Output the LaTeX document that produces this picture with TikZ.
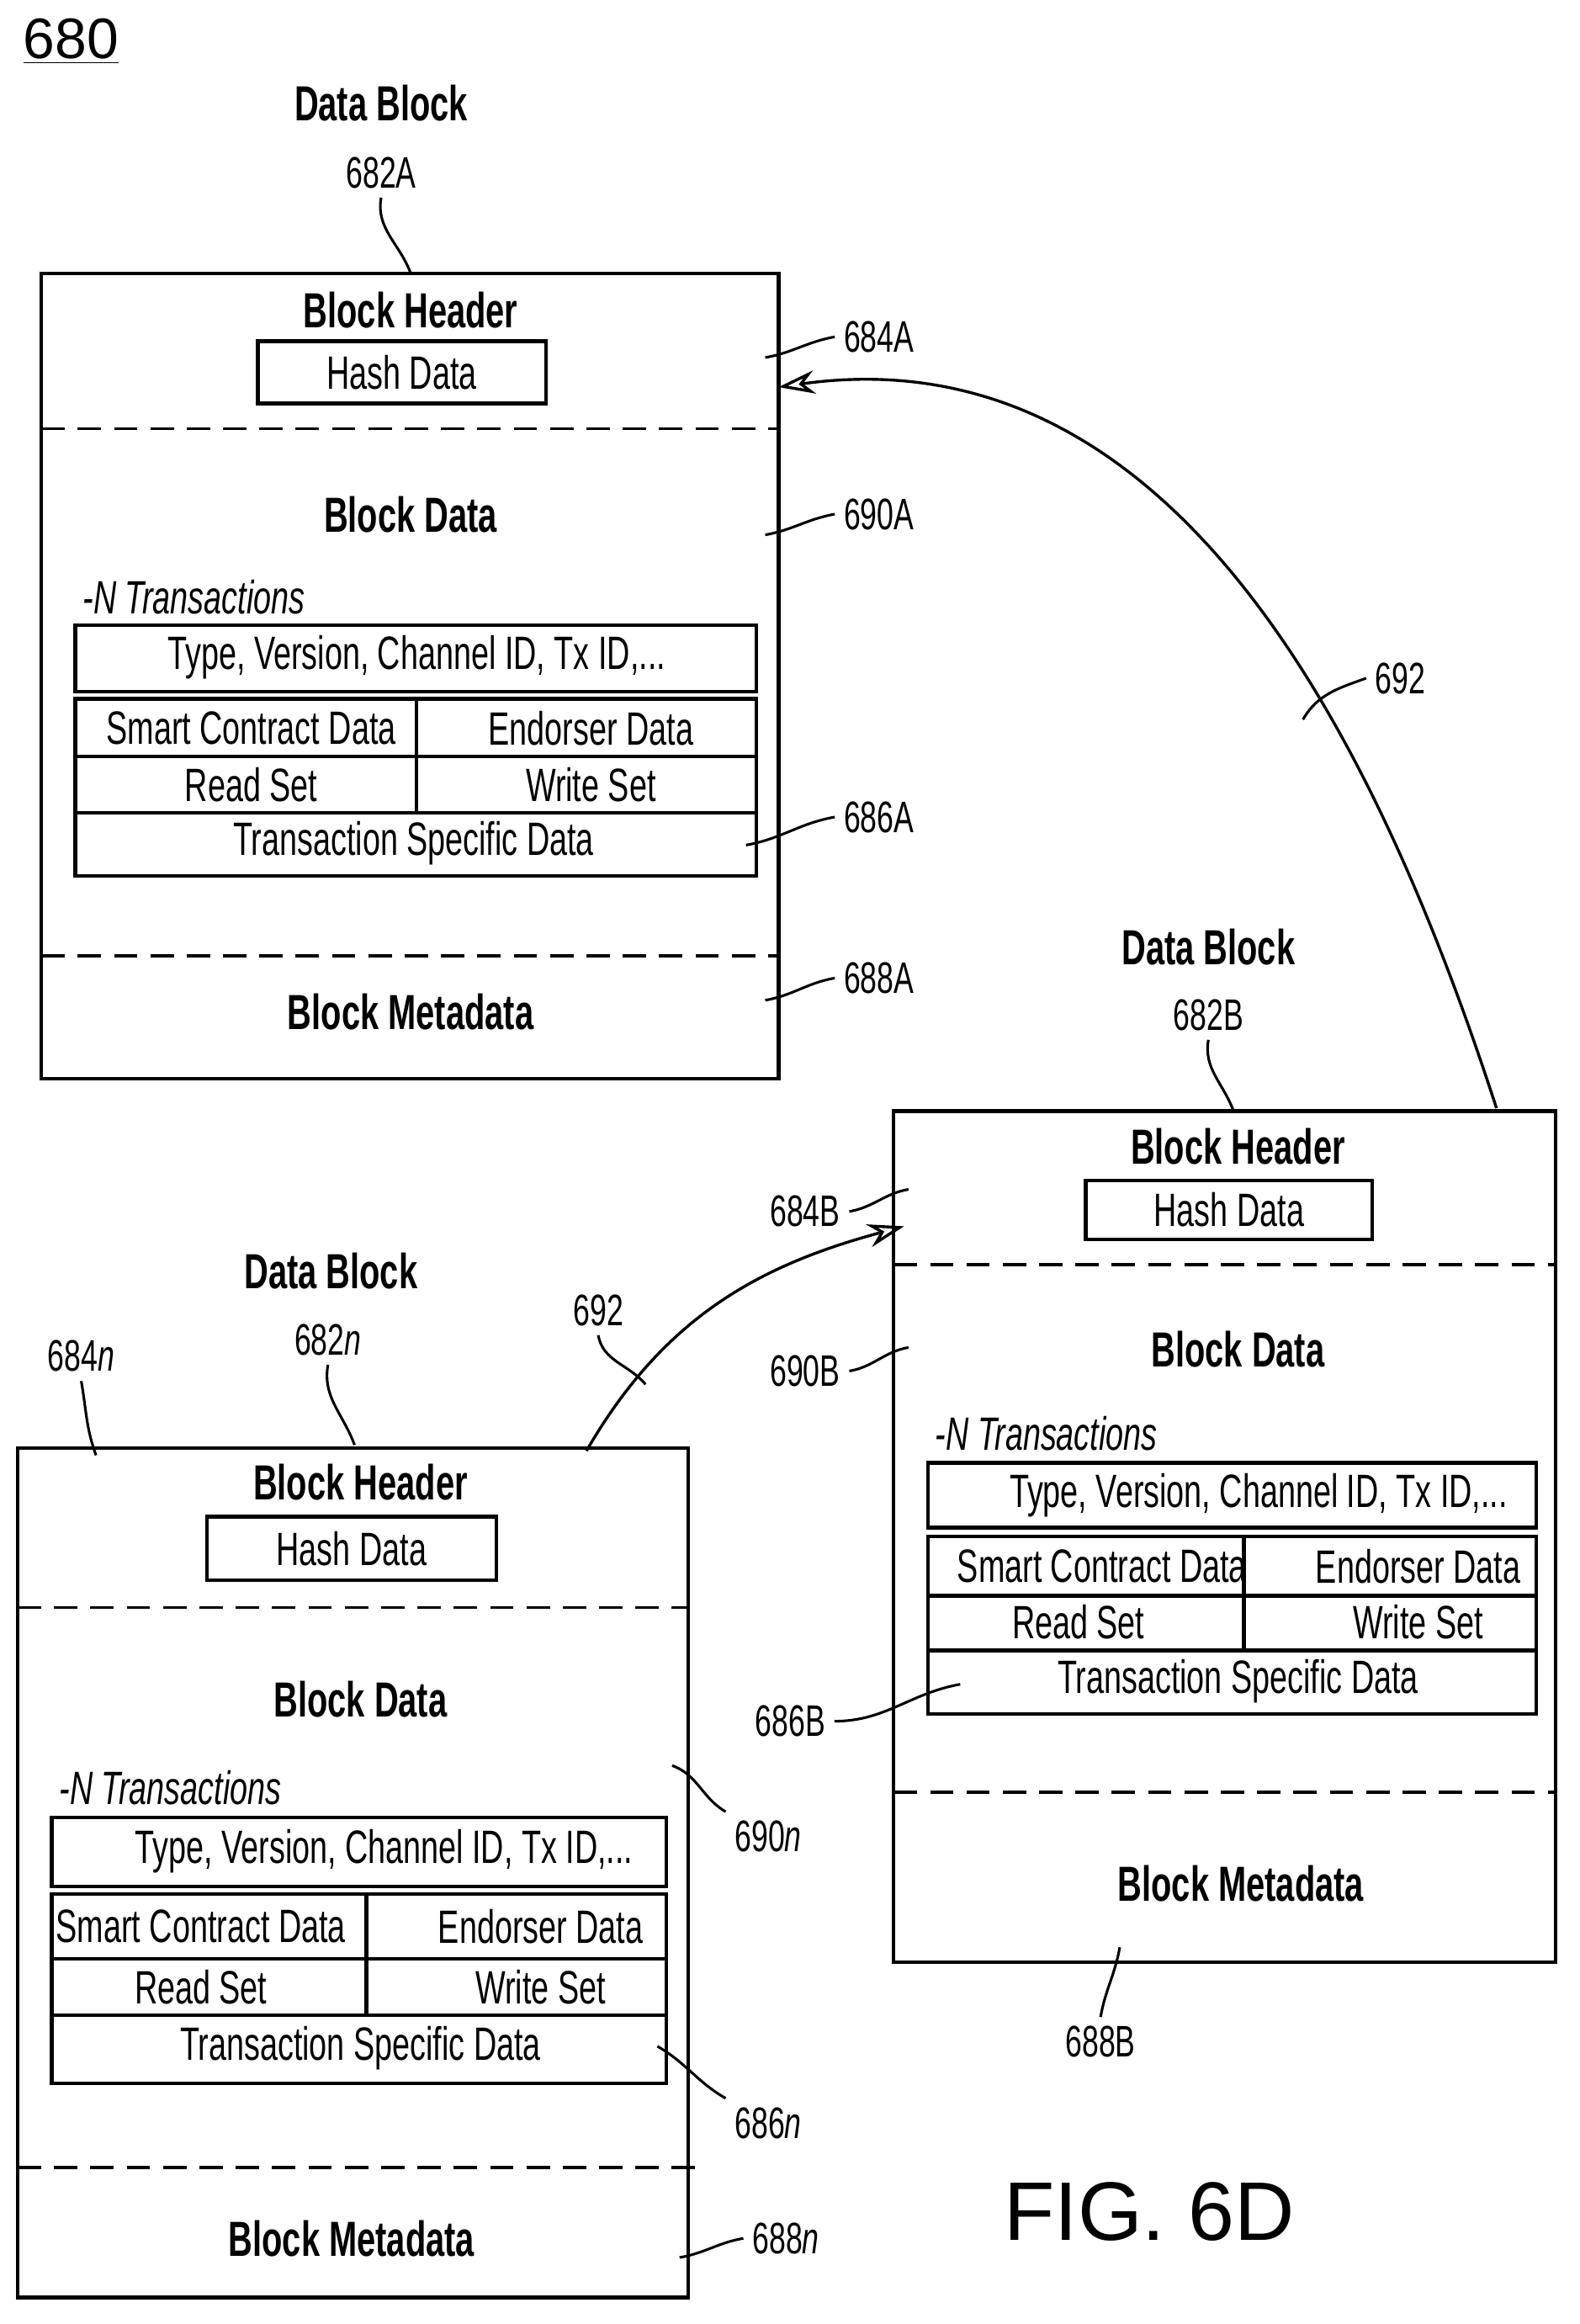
\documentclass[tikz,border=0pt]{standalone}
\usepackage{fontspec}
\setmainfont{Liberation Sans}
\newfontfamily\narrowfont[FakeStretch=0.68]{Liberation Sans}
\usetikzlibrary{arrows.meta}

\tikzset{
  box/.style={draw, line width=1.4pt},
  split/.style={line width=1.1pt, dash pattern=on 9pt off 5pt},
  lead/.style={line width=1pt},
  ttl/.style={font=\narrowfont\fontsize{19}{21}\selectfont\bfseries},
  txt/.style={font=\narrowfont\fontsize{18}{20}\selectfont},
  lbl/.style={font=\narrowfont\fontsize{17}{19}\selectfont},
  link/.style={line width=1.1pt, -{Stealth[open,length=14pt,width=9pt]}}
}

\begin{document}
\begin{tikzpicture}[x=0.02cm,y=-0.02cm]
\useasboundingbox (0,0) rectangle (1069,1573);

\node[font=\fontsize{22}{24}\selectfont] (fig) at (48,28) {\underline{680}};
\node[font=\fontsize{32}{34}\selectfont] (cap) at (778,1497) {FIG. 6D};

% ---------- block A ----------
\draw[box] (28,185) rectangle (527,730);
\draw[split] (28,290) -- (527,290);
\draw[split] (28,647) -- (527,647);
\node[ttl] (hA) at (278,210) {Block Header};
\node[box,txt,minimum width=195*0.02cm,minimum height=42*0.02cm,inner sep=0] (hdA) at (272,252) {Hash Data};
\node[ttl] (bdA) at (278,348) {Block Data};
\node[anchor=west,font=\narrowfont\fontsize{18}{20}\selectfont\itshape] (ntA) at (50,404) {-N Transactions};
\draw[box] (51,423) rectangle (512,468);
\node[txt] (tyA) at (282,445) {Type, Version, Channel ID, Tx ID,...};
\draw[box] (51,473) rectangle (512,593);
\draw[box] (51,512) -- (512,512) (51,550) -- (512,550) (282,473) -- (282,550);
\node[txt] (scA) at (170,493) {Smart Contract Data};
\node[txt] (edA) at (400,493) {Endorser Data};
\node[txt] (rsA) at (170,531) {Read Set};
\node[txt] (wsA) at (400,531) {Write Set};
\node[txt] (tsA) at (280,571) {Transaction Specific Data};
\node[ttl] (bmA) at (278,685) {Block Metadata};
\node[ttl] (dbA) at (258,70) {Data Block};
\node[lbl] (nA) at (258,117) {682A};
\draw[lead] (nA.south) to[out=-100,in=110] (278,185);
\node[lbl] (l684A) at (595,228) {684A};
\draw[lead] (l684A.west) to[out=190,in=10] (518,242);
\node[lbl] (l690A) at (595,348) {690A};
\draw[lead] (l690A.west) to[out=190,in=10] (518,362);
\node[lbl] (l686A) at (595,553) {686A};
\draw[lead] (l686A.west) to[out=190,in=10] (505,572);
\node[lbl] (l688A) at (595,662) {688A};
\draw[lead] (l688A.west) to[out=190,in=10] (518,677);

% ---------- block B ----------
\draw[box] (605,752) rectangle (1053,1328);
\draw[split] (605,856) -- (1053,856);
\draw[split] (605,1213) -- (1053,1213);
\node[ttl] (hB) at (838,776) {Block Header};
\node[box,txt,minimum width=194*0.02cm,minimum height=40*0.02cm,inner sep=0] (hdB) at (832,819) {Hash Data};
\node[ttl] (bdB) at (838,913) {Block Data};
\node[anchor=west,font=\narrowfont\fontsize{18}{20}\selectfont\itshape] (ntB) at (627,970) {-N Transactions};
\draw[box] (628,990) rectangle (1040,1034);
\node[txt] (tyB) at (852,1012) {Type, Version, Channel ID, Tx ID,...};
\draw[box] (628,1040) rectangle (1040,1160);
\draw[box] (628,1080) -- (1040,1080) (628,1117) -- (1040,1117) (842,1040) -- (842,1117);
\node[txt] (scB) at (746,1060) {Smart Contract Data};
\node[txt] (edB) at (960,1060) {Endorser Data};
\node[txt] (rsB) at (730,1098) {Read Set};
\node[txt] (wsB) at (960,1098) {Write Set};
\node[txt] (tsB) at (838,1138) {Transaction Specific Data};
\node[ttl] (bmB) at (840,1275) {Block Metadata};
\node[ttl] (dbB) at (818,641) {Data Block};
\node[lbl] (nB) at (818,687) {682B};
\draw[lead] (nB.south) to[out=-100,in=110] (835,752);
\node[lbl] (l684B) at (545,820) {684B};
\draw[lead] (l684B.east) to[out=10,in=190] (615,805);
\node[lbl] (l690B) at (545,928) {690B};
\draw[lead] (l690B.east) to[out=10,in=190] (615,912);
\node[lbl] (l686B) at (535,1165) {686B};
\draw[lead] (l686B.east) to[out=0,in=190] (650,1140);
\node[lbl] (l688B) at (745,1382) {688B};
\draw[lead] (l688B.north) to[out=80,in=-100] (758,1318);

% ---------- block n ----------
\draw[box] (12,980) rectangle (466,1555);
\draw[split] (12,1088) -- (466,1088);
\draw[split] (12,1467) -- (478,1467);
\node[ttl] (hN) at (244,1003) {Block Header};
\node[box,txt,minimum width=196*0.02cm,minimum height=43*0.02cm,inner sep=0] (hdN) at (238,1048) {Hash Data};
\node[ttl] (bdN) at (244,1150) {Block Data};
\node[anchor=west,font=\narrowfont\fontsize{18}{20}\selectfont\itshape] (ntN) at (34,1210) {-N Transactions};
\draw[box] (35,1230) rectangle (451,1277);
\node[txt] (tyN) at (260,1253) {Type, Version, Channel ID, Tx ID,...};
\draw[box] (35,1282) rectangle (451,1410);
\draw[box] (35,1326) -- (451,1326) (35,1364) -- (451,1364) (248,1282) -- (248,1364);
\node[txt] (scN) at (136,1304) {Smart Contract Data};
\node[txt] (edN) at (366,1304) {Endorser Data};
\node[txt] (rsN) at (136,1345) {Read Set};
\node[txt] (wsN) at (366,1345) {Write Set};
\node[txt] (tsN) at (244,1386) {Transaction Specific Data};
\node[ttl] (bmN) at (238,1515) {Block Metadata};
\node[ttl] (dbN) at (224,860) {Data Block};
\node[lbl] (nN) at (222,907) {682\textit{n}};
\draw[lead] (nN.south) to[out=-100,in=110] (240,978);
\node[lbl] (l684N) at (55,918) {684\textit{n}};
\draw[lead] (l684N.south) to[out=-80,in=110] (65,985);
\node[lbl] (l690N) at (520,1243) {690\textit{n}};
\draw[lead] (l690N.north west) to[out=150,in=-20] (455,1195);
\node[lbl] (l686N) at (520,1437) {686\textit{n}};
\draw[lead] (l686N.north west) to[out=150,in=-30] (445,1385);
\node[lbl] (l688N) at (532,1515) {688\textit{n}};
\draw[lead] (l688N.west) to[out=190,in=10] (460,1528);

% ---------- links ----------
\coordinate (fromB) at (1013,750);
\coordinate (toA) at (527,262);
\coordinate (fromN) at (397,982);
\coordinate (toB) at (612,830);
\draw[link] (fromB) to[out=108,in=8] (toA);
\node[lbl] (k1) at (948,459) {692};
\draw[lead] (k1.west) to[out=200,in=60] (882,487);
\draw[link] (fromN) to[out=60,in=195] (toB);
\node[lbl] (k2) at (405,887) {692};
\draw[lead] (k2.south) to[out=-80,in=130] (437,937);
\end{tikzpicture}
\end{document}
